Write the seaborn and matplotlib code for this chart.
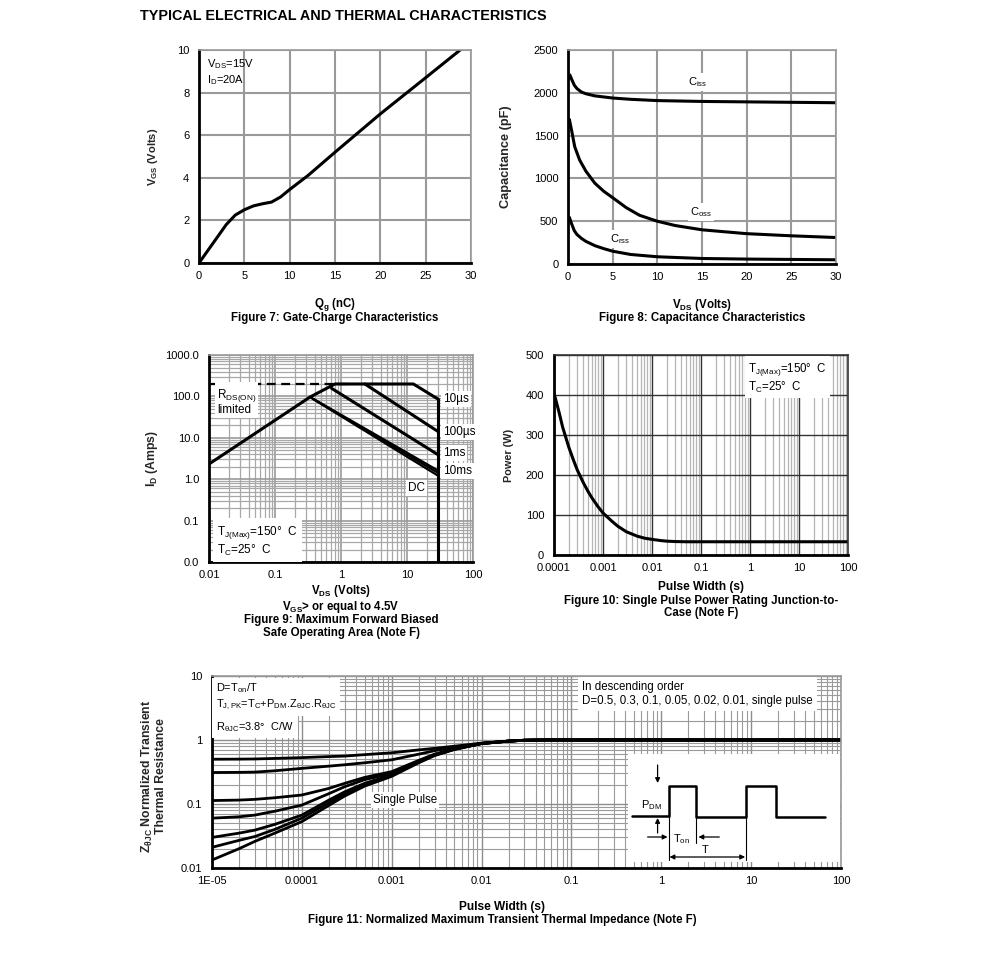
import numpy as np
import pandas as pd
import seaborn as sns
import matplotlib.pyplot as plt
from matplotlib.ticker import FixedLocator, FixedFormatter, LogLocator, NullFormatter

# ==========================================
# DATA
# ==========================================
# Figure 7: gate charge
qg_nc = [0, 1, 2, 3, 4, 5, 6, 7, 8, 9, 10, 12, 15, 20, 25, 28.8]
vgs_v = [0, 0.6, 1.2, 1.8, 2.25, 2.5, 2.68, 2.78, 2.86, 3.1, 3.45, 4.1, 5.2, 7.0, 8.7, 10.0]

# Figure 8: capacitance
ciss_v = [0.05, 0.2, 0.4, 0.7, 1, 1.5, 2, 3, 5, 7, 10, 15, 20, 25, 30]
ciss_pf = [2160, 2210, 2160, 2090, 2050, 2010, 1990, 1965, 1940, 1925, 1910, 1900, 1895, 1890, 1885]
coss_v = [0.05, 0.15, 0.4, 0.75, 1.3, 2, 3, 4, 5, 6.5, 8, 10, 12, 15, 20, 25, 30]
coss_pf = [1600, 1690, 1560, 1370, 1215, 1085, 945, 850, 775, 660, 570, 500, 450, 400, 355, 330, 310]
crss_v = [0.05, 0.15, 0.4, 0.7, 1, 1.5, 2, 3, 4, 5, 7, 10, 15, 20, 25, 30]
crss_pf = [500, 545, 470, 390, 345, 300, 265, 215, 180, 150, 112, 85, 65, 58, 54, 50]

# Figure 9: safe operating area
soa_10us_v = [0.01, 0.34, 0.81, 12.5, 30, 30]
soa_10us_i = [2.33, 97, 200, 200, 85, 0.01]
soa_100us_v = [2.3, 30]
soa_100us_i = [200, 14]
soa_1ms_v = [0.72, 30]
soa_1ms_i = [157, 3.85]
soa_10ms_v = [0.34, 30]
soa_10ms_i = [97, 1.6]
soa_100ms_v = [0.36, 30]
soa_100ms_i = [91, 1.4]
soa_dc_v = [0.38, 30]
soa_dc_i = [86, 1.2]
rds_limit_v = [0.01, 1.35]
rds_limit_i = [205, 205]

# Figure 10: single pulse power
pulse_w_s = [1e-4, 1.25e-4, 1.5e-4, 2e-4, 2.5e-4, 3e-4, 4e-4, 5e-4, 6e-4, 8e-4, 1e-3, 1.5e-3,
             2e-3, 3e-3, 5e-3, 7e-3, 1e-2, 1.5e-2, 2e-2, 3e-2, 5e-2, 0.1, 100]
power_w = [405, 360, 320, 270, 237, 212, 180, 158, 142, 120, 105, 85,
           72, 58, 47, 42, 39, 36, 34.5, 33.5, 33, 33, 33]

# Figure 11: normalized transient thermal impedance
t_z = [1e-5, 2e-5, 3e-5, 5e-5, 1e-4, 2e-4, 3e-4, 5e-4, 1e-3, 2e-3, 3e-3, 5e-3,
       1e-2, 2e-2, 3e-2, 5e-2, 0.1, 1, 10, 100]
z_d05 = [0.50, 0.502, 0.505, 0.515, 0.53, 0.55, 0.56, 0.59, 0.63, 0.70, 0.74, 0.80,
         0.89, 0.96, 0.99, 1.0, 1.0, 1.0, 1.0, 1.0]
z_d03 = [0.31, 0.312, 0.315, 0.33, 0.36, 0.39, 0.41, 0.44, 0.49, 0.60, 0.68, 0.77,
         0.89, 0.96, 0.99, 1.0, 1.0, 1.0, 1.0, 1.0]
z_d01 = [0.113, 0.115, 0.118, 0.125, 0.138, 0.175, 0.21, 0.26, 0.32, 0.48, 0.60, 0.73,
         0.88, 0.96, 0.99, 1.0, 1.0, 1.0, 1.0, 1.0]
z_d005 = [0.060, 0.063, 0.067, 0.077, 0.096, 0.145, 0.186, 0.24, 0.30, 0.46, 0.59, 0.72,
          0.88, 0.96, 0.99, 1.0, 1.0, 1.0, 1.0, 1.0]
z_d002 = [0.030, 0.035, 0.039, 0.048, 0.067, 0.115, 0.155, 0.21, 0.285, 0.45, 0.58, 0.72,
          0.88, 0.96, 0.99, 1.0, 1.0, 1.0, 1.0, 1.0]
z_d001 = [0.021, 0.027, 0.031, 0.040, 0.060, 0.105, 0.144, 0.20, 0.28, 0.45, 0.58, 0.72,
          0.88, 0.96, 0.99, 1.0, 1.0, 1.0, 1.0, 1.0]
z_single = [0.0133, 0.020, 0.026, 0.035, 0.053, 0.095, 0.133, 0.19, 0.27, 0.44, 0.57, 0.71,
            0.88, 0.96, 0.99, 1.0, 1.0, 1.0, 1.0, 1.0]

# pulse sketch in the inset (schematic units)
sketch_x = [4, 41, 41, 69, 69, 119, 119, 149, 149, 198]
sketch_y = [46, 46, 76, 76, 45, 45, 76, 76, 45, 45]

# ==========================================
# STYLING
# ==========================================
sns.set_style('white')
plt.rcParams.update({
    'font.family': ['Liberation Sans', 'DejaVu Sans'],
    'mathtext.default': 'regular',
    'font.size': 8,
    'xtick.labelsize': 8,
    'ytick.labelsize': 8,
    'text.color': 'black',
})

WHITE = dict(facecolor='white', edgecolor='none', pad=1.5)
CAP = 8.3


def frame(ax, side_color='#999999'):
    for s in ['left', 'bottom']:
        ax.spines[s].set_color('black')
        ax.spines[s].set_linewidth(2)
    for s in ['top', 'right']:
        ax.spines[s].set_color(side_color)
        ax.spines[s].set_linewidth(1.2)
    ax.tick_params(which='both', length=0, colors='black')
    ax.tick_params(axis='x', pad=6)
    ax.tick_params(axis='y', pad=7)


def curve(ax, x, y, lw=2.2, **kw):
    sns.lineplot(x=x, y=y, ax=ax, color='black', lw=lw, sort=False, estimator=None, legend=False, **kw)


def captions(ax, lines, xc=0.5):
    for ypos, txt, sz in lines:
        ax.text(xc, ypos, txt, transform=ax.transAxes, ha='center', va='center',
                weight='bold', size=sz)


fig = plt.figure(figsize=(9.91, 9.56), dpi=100)
fig.text(140 / 991, 1 - 16 / 956, "TYPICAL ELECTRICAL AND THERMAL CHARACTERISTICS",
         size=10.4, weight='bold', va='center')

# ---------- Figure 7 ----------
ax7 = fig.add_axes([0.2008, 0.7249, 0.2745, 0.2228])
curve(ax7, qg_nc, vgs_v)
ax7.set_xlim(0, 30)
ax7.set_ylim(0, 10)
ax7.set_xticks(np.arange(0, 31, 5))
ax7.set_yticks(np.arange(0, 11, 2))
ax7.grid(True, color='#999999', lw=1.5)
frame(ax7)
ax7.set_ylabel("V$_{GS}$ (Volts)", weight='bold', size=8)
ax7.yaxis.set_label_coords(-0.143, 0.5)
ax7.set_xlabel("")
ax7.text(0.03, 0.965, "V$_{DS}$=15V\nI$_{D}$=20A", transform=ax7.transAxes, va='top', size=8)
captions(ax7, [(-0.197, "Q$_{g}$ (nC)", 8.3), (-0.258, "Figure 7: Gate-Charge Characteristics", CAP)])

# ---------- Figure 8 ----------
ax8 = fig.add_axes([0.5732, 0.7238, 0.2704, 0.2238])
curve(ax8, ciss_v, ciss_pf)
curve(ax8, coss_v, coss_pf)
curve(ax8, crss_v, crss_pf)
ax8.set_xlim(0, 30)
ax8.set_ylim(0, 2500)
ax8.set_xticks(np.arange(0, 31, 5))
ax8.set_yticks(np.arange(0, 2501, 500))
ax8.grid(True, color='#999999', lw=1.5)
frame(ax8)
ax8.set_ylabel("Capacitance (pF)", weight='bold', size=9.2)
ax8.yaxis.set_label_coords(-0.209, 0.5)
ax8.set_xlabel("")
ax8.text(14.5, 2130, "C$_{iss}$", ha='center', va='center', size=8, bbox=WHITE)
ax8.text(14.9, 610, "C$_{oss}$", ha='center', va='center', size=8, bbox=WHITE)
ax8.text(5.8, 290, "C$_{rss}$", ha='center', va='center', size=8, bbox=WHITE)
captions(ax8, [(-0.192, "V$_{DS}$ (Volts)", 8.3), (-0.252, "Figure 8: Capacitance Characteristics", CAP)])

# ---------- Figure 9 ----------
ax9 = fig.add_axes([0.2109, 0.4121, 0.2664, 0.2165])
ax9.set_xscale('log')
ax9.set_yscale('log')
curve(ax9, soa_10us_v, soa_10us_i)
curve(ax9, soa_100us_v, soa_100us_i)
curve(ax9, soa_1ms_v, soa_1ms_i)
curve(ax9, soa_10ms_v, soa_10ms_i, lw=1.6)
curve(ax9, soa_100ms_v, soa_100ms_i, lw=1.6)
curve(ax9, soa_dc_v, soa_dc_i, lw=1.6)
curve(ax9, rds_limit_v, rds_limit_i, lw=1.6, linestyle=(0, (4, 2.5)))
ax9.set_xlim(0.01, 100)
ax9.set_ylim(0.01, 1000)
ax9.xaxis.set_major_locator(FixedLocator([0.01, 0.1, 1, 10, 100]))
ax9.xaxis.set_major_formatter(FixedFormatter(["0.01", "0.1", "1", "10", "100"]))
ax9.yaxis.set_major_locator(FixedLocator([0.01, 0.1, 1, 10, 100, 1000]))
ax9.yaxis.set_major_formatter(FixedFormatter(["0.0", "0.1", "1.0", "10.0", "100.0", "1000.0"]))
for axis in (ax9.xaxis, ax9.yaxis):
    axis.set_minor_locator(LogLocator(base=10, subs=np.arange(2, 10), numticks=20))
    axis.set_minor_formatter(NullFormatter())
ax9.grid(True, which='major', color='#999999', lw=1.2)
ax9.grid(True, which='minor', color='#a8a8a8', lw=0.9)
frame(ax9)
ax9.set_ylabel("I$_{D}$ (Amps)", weight='bold', size=8.8)
ax9.yaxis.set_label_coords(-0.186, 0.5)
ax9.set_xlabel("")
ax9.text(0.03, 0.845, "R$_{DS(ON)}$\nlimited", transform=ax9.transAxes, va='top', size=8.5,
         linespacing=0.95, bbox=WHITE)
for ypos, lab in [(0.787, "10µs"), (0.628, "100µs"), (0.527, "1ms"), (0.44, "10ms")]:
    ax9.text(0.886, ypos, lab, transform=ax9.transAxes, va='center', size=8.5, bbox=WHITE)
ax9.text(0.754, 0.357, "DC", transform=ax9.transAxes, va='center', size=8.5, bbox=WHITE)
ax9.text(0.03, 0.184, "T$_{J(Max)}$=150°  C\nT$_{C}$=25°  C", transform=ax9.transAxes,
         va='top', size=8.5, bbox=dict(facecolor='white', edgecolor='none', pad=3))
captions(ax9, [(-0.14, "V$_{DS}$ (Volts)", 8.3), (-0.217, "V$_{GS}$> or equal to 4.5V", CAP),
               (-0.28, "Figure 9: Maximum Forward Biased", CAP),
               (-0.343, "Safe Operating Area (Note F)", CAP)])

# ---------- Figure 10 ----------
ax10 = fig.add_axes([0.559, 0.4195, 0.2967, 0.2092])
ax10.set_xscale('log')
curve(ax10, pulse_w_s, power_w)
ax10.set_xlim(1e-4, 100)
ax10.set_ylim(0, 500)
ax10.xaxis.set_major_locator(FixedLocator([1e-4, 1e-3, 1e-2, 0.1, 1, 10, 100]))
ax10.xaxis.set_major_formatter(FixedFormatter(["0.0001", "0.001", "0.01", "0.1", "1", "10", "100"]))
ax10.xaxis.set_minor_locator(LogLocator(base=10, subs=np.arange(2, 10), numticks=20))
ax10.xaxis.set_minor_formatter(NullFormatter())
ax10.set_yticks(np.arange(0, 501, 100))
ax10.grid(True, which='major', color='#333333', lw=1.0)
ax10.grid(True, which='minor', axis='x', color='#b5b5b5', lw=0.9)
frame(ax10, side_color='#333333')
ax10.set_ylabel("Power (W)", weight='bold', size=7.8)
ax10.yaxis.set_label_coords(-0.136, 0.5)
ax10.set_xlabel("")
ax10.text(0.66, 0.972, "T$_{J(Max)}$=150°  C\nT$_{C}$=25°  C", transform=ax10.transAxes,
          va='top', size=8.3, bbox=dict(facecolor='white', edgecolor='none', pad=2))
captions(ax10, [(-0.16, "Pulse Width (s)", 8.6), (-0.23, "Figure 10: Single Pulse Power Rating Junction-to-", CAP),
                (-0.29, "Case (Note F)", CAP)])

# ---------- Figure 11 ----------
ax11 = fig.add_axes([0.2139, 0.0921, 0.6347, 0.2008])
ax11.set_xscale('log')
ax11.set_yscale('log')
for z in (z_d05, z_d03, z_d01, z_d005, z_d002, z_d001, z_single):
    curve(ax11, t_z, z, lw=2.0)
ax11.set_xlim(1e-5, 100)
ax11.set_ylim(0.01, 10)
ax11.xaxis.set_major_locator(FixedLocator([1e-5, 1e-4, 1e-3, 1e-2, 0.1, 1, 10, 100]))
ax11.xaxis.set_major_formatter(FixedFormatter(["1E-05", "0.0001", "0.001", "0.01", "0.1", "1", "10", "100"]))
ax11.yaxis.set_major_locator(FixedLocator([0.01, 0.1, 1, 10]))
ax11.yaxis.set_major_formatter(FixedFormatter(["0.01", "0.1", "1", "10"]))
for axis in (ax11.xaxis, ax11.yaxis):
    axis.set_minor_locator(LogLocator(base=10, subs=np.arange(2, 10), numticks=20))
    axis.set_minor_formatter(NullFormatter())
ax11.grid(True, which='major', color='#8c8c8c', lw=1.0)
ax11.grid(True, which='minor', color='#9a9a9a', lw=0.8)
frame(ax11)
ax11.set_ylabel("Z$_{θJC}$ Normalized Transient\nThermal Resistance", weight='bold', size=8.8,
                linespacing=1.0)
ax11.yaxis.set_label_coords(-0.072, 0.48)
ax11.set_xlabel("")
ax11.text(0.006, 0.975, "D=T$_{on}$/T\nT$_{J,PK}$=T$_{C}$+P$_{DM}$.Z$_{θJC}$.R$_{θJC}$",
          transform=ax11.transAxes, va='top', size=7.9, linespacing=1.3,
          bbox=dict(facecolor='white', edgecolor='none', pad=3))
ax11.text(0.006, 0.734, "R$_{θJC}$=3.8°  C/W", transform=ax11.transAxes, va='center', size=7.9,
          bbox=dict(facecolor='white', edgecolor='none', pad=3))
ax11.text(0.588, 0.972, "In descending order\nD=0.5, 0.3, 0.1, 0.05, 0.02, 0.01, single pulse",
          transform=ax11.transAxes, va='top', size=8.3, linespacing=1.2,
          bbox=dict(facecolor='white', edgecolor='none', pad=3))
ax11.text(0.256, 0.354, "Single Pulse", transform=ax11.transAxes, va='center', size=8.3, bbox=WHITE)
captions(ax11, [(-0.203, "Pulse Width (s)", 8.6),
                (-0.27, "Figure 11: Normalized Maximum Transient Thermal Impedance (Note F)", 8.3)],
         xc=0.461)

# inset: pulse sketch
axi = ax11.inset_axes([0.661, 0.031, 0.337, 0.5625])
axi.set_facecolor('white')
axi.set_xticks([])
axi.set_yticks([])
for s in axi.spines.values():
    s.set_visible(False)
axi.set_xlim(0, 213)
axi.set_ylim(0, 108)
curve(axi, sketch_x, sketch_y, lw=1.8)
for xv, ylo in [(41, 2), (69, 19), (119, 2)]:
    axi.plot([xv, xv], [45, ylo], color='black', lw=0.8)
arrow = dict(arrowstyle='-|>', color='black', lw=0.9, mutation_scale=7, shrinkA=0, shrinkB=0)
axi.annotate('', xy=(30, 79), xytext=(30, 97), arrowprops=arrow)
axi.annotate('', xy=(30, 44), xytext=(30, 29), arrowprops=arrow)
axi.annotate('', xy=(40, 25), xytext=(20, 25), arrowprops=arrow)
axi.annotate('', xy=(71, 25), xytext=(92, 25), arrowprops=arrow)
axi.annotate('', xy=(118, 5), xytext=(42, 5), arrowprops=dict(arrowstyle='<|-|>', color='black', lw=0.9,
                                                             mutation_scale=7, shrinkA=0, shrinkB=0))
axi.text(24, 57, "P$_{DM}$", ha='center', va='center', size=8)
axi.text(54, 23, "T$_{on}$", ha='center', va='center', size=8)
axi.text(78, 12, "T", ha='center', va='center', size=8)

fig.savefig("out.png", dpi=100)
